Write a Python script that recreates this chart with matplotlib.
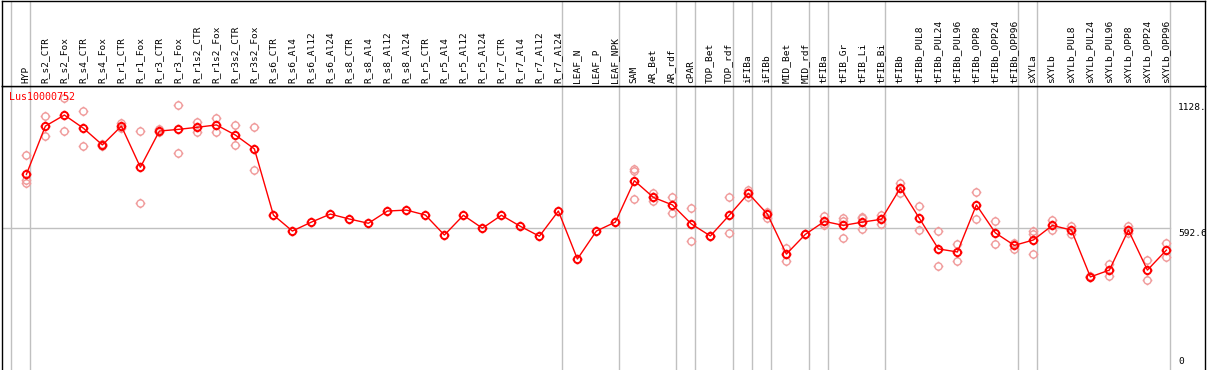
import numpy as np
import matplotlib
matplotlib.use('Agg')
import matplotlib.pyplot as plt
from matplotlib.path import Path

# --- data ---
gene = "Lus10000752"

samples = [
    "HYP",
    "R_s2_CTR", "R_s2_Fox", "R_s4_CTR", "R_s4_Fox", "R_r1_CTR", "R_r1_Fox",
    "R_r3_CTR", "R_r3_Fox", "R_r1s2_CTR", "R_r1s2_Fox", "R_r3s2_CTR", "R_r3s2_Fox",
    "R_s6_CTR", "R_s6_Al4", "R_s6_Al12", "R_s6_Al24",
    "R_s8_CTR", "R_s8_Al4", "R_s8_Al12", "R_s8_Al24",
    "R_r5_CTR", "R_r5_Al4", "R_r5_Al12", "R_r5_Al24",
    "R_r7_CTR", "R_r7_Al4", "R_r7_Al12", "R_r7_Al24",
    "LEAF_N", "LEAF_P", "LEAF_NPK",
    "SAM", "AR_Bet", "AR_rdf",
    "cPAR",
    "TOP_Bet", "TOP_rdf",
    "iFIBa",
    "iFIBb",
    "MID_Bet", "MID_rdf",
    "tFIBa",
    "tFIB_Gr", "tFIB_Li", "tFIB_Bi",
    "tFIBb", "tFIBb_PUL8", "tFIBb_PUL24", "tFIBb_PUL96",
    "tFIBb_OPP8", "tFIBb_OPP24", "tFIBb_OPP96",
    "sXYLa",
    "sXYLb", "sXYLb_PUL8", "sXYLb_PUL24", "sXYLb_PUL96",
    "sXYLb_OPP8", "sXYLb_OPP24", "sXYLb_OPP96",
]

# number of samples in each block between the grey separators
group_sizes = [1, 28, 3, 3, 1, 2, 1, 1, 2, 1, 3, 7, 1, 7]

means = [
    821,
    1026, 1073, 1017, 946, 1026, 851, 1005, 1012, 1021, 1031, 988, 929,
    648, 580, 618, 652, 631, 613, 665, 669,
    648, 563, 647, 592, 647, 600, 558, 665,
    461, 580, 618,
    794, 723, 691, 610, 559, 648, 740, 652, 482, 566,
    621, 604, 618, 630,
    763, 634, 504, 491, 691, 572, 519,
    542, 604, 584, 385, 414, 584, 414, 499,
]

replicates = [
    [903, 797, 783],
    [1069, 984], [1144, 1005], [1090, 941], [950, 942], [1038, 1017], [1005, 698],
    [1012, 1000], [1116, 911], [1045, 1000], [1059, 1000], [1031, 946], [1021, 839],
    [], [], [], [], [], [], [], [],
    [], [], [], [], [], [], [], [],
    [], [], [],
    [844, 836, 715], [740, 708, 723], [726, 655],
    [677, 538],
    [559, 557], [726, 570],
    [754, 726],
    [662, 634],
    [509, 454], [566, 569],
    [645, 606, 612],
    [637, 624, 552], [641, 634, 587], [648, 610],
    [783, 743], [686, 584], [580, 431], [524, 451],
    [745, 631], [623, 524], [530, 505],
    [581, 567, 481],
    [627, 583], [600, 567], [385, 389], [442, 389],
    [601, 570], [456, 372], [529, 468],
]

ytick_vals = [0, 592.6, 1128]
ytick_text = ["0", "592.6", "1128."]

# --- layout (pixels) ---
W, H = 1209, 370
hdr = 86
cell = 19.0
red = '#ff0000'
pink = '#f09a9a'
grey = '#c0c0c0'
mono = 'DejaVu Sans Mono'

# circle with four little ticks, like the original marker
circ = Path.unit_circle()
tick_v, tick_c = [], []
for dx, dy in [(1, 0), (-1, 0), (0, 1), (0, -1)]:
    tick_v += [(dx * 1.0, dy * 1.0), (dx * 1.35, dy * 1.35)]
    tick_c += [Path.MOVETO, Path.LINETO]
ring = Path.make_compound_path(circ, Path(tick_v, tick_c))

fig = plt.figure(figsize=(W / 100, H / 100), dpi=100)
ax = fig.add_axes([2 / W, 0, (1205 - 2) / W, (H - hdr) / H])
hx = fig.add_axes([2 / W, (H - hdr) / H, (1205 - 2) / W, (hdr - 0.5) / H])

xmin = -(11 - 2) / cell
xmax = xmin + (1205 - 2) / cell
for a in (ax, hx):
    a.set_xlim(xmin, xmax)
    a.set_xticks([])
    a.set_yticks([])
    for s in a.spines.values():
        s.set_color('black')
        s.set_linewidth(1.0)
ax.spines['bottom'].set_visible(False)
ax.set_ylim(-10.6, 1196.4)
hx.set_ylim(0, 1)

# grey block separators through header and plot
bounds = np.concatenate([[0], np.cumsum(group_sizes)])
for b in bounds:
    ax.axvline(b, color=grey, lw=1.0, zorder=0)
    hx.axvline(b, color=grey, lw=1.0, zorder=0)
ax.axhline(592.6, xmin=0, xmax=(bounds[-1] - xmin) / (xmax - xmin), color=grey, lw=1.0, zorder=0)

x = np.arange(len(samples)) + 0.81

# replicates
for xi, vals in zip(x, replicates):
    if vals:
        ax.plot([xi] * len(vals), vals, ls='none', marker=ring, ms=7,
                mfc='none', mec=pink, mew=1.0, zorder=2)

# mean line
ax.plot(x, means, color=red, lw=1.0, marker=ring, ms=7, mfc='none',
        mec=red, mew=1.4, zorder=3)

# sample names in the header
for xi, name in zip(x, samples):
    hx.text(xi - 0.03, 0.035, name, rotation=90, ha='center', va='bottom',
            fontsize=6.8, family=mono, color='black')

# gene name
ax.text(-0.09, 1151, gene, color=red, fontsize=7.2, family=mono,
        ha='left', va='center')

# value labels on the right
lab_x = (1178 - 11) / cell
for v, t in zip(ytick_vals, ytick_text):
    ax.text(lab_x, v + (6 if v == 0 else -4), t, fontsize=6.8, family=mono,
            ha='left', va='bottom' if v == 0 else 'top', clip_on=True)

fig.savefig('out.png', dpi=100)
